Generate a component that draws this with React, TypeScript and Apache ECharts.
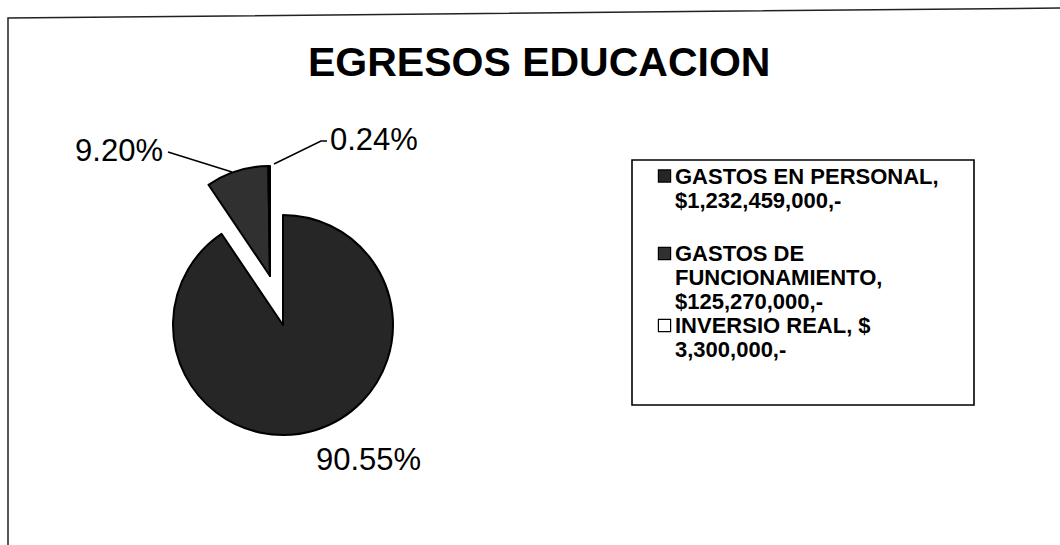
import React, { useEffect, useRef } from "react";
import * as echarts from "echarts";

// ---- data ----
const categories = ["GASTOS EN PERSONAL", "GASTOS DE FUNCIONAMIENTO", "INVERSIO REAL"];
const values = [1232459000, 125270000, 3300000];
const legendLines = [
  ["GASTOS EN PERSONAL,", "$1,232,459,000,-"],
  ["GASTOS DE", "FUNCIONAMIENTO,", "$125,270,000,-"],
  ["INVERSIO REAL, $", "3,300,000,-"],
];
const exploded = [false, true, true];
const titleText = "EGRESOS EDUCACION";

// ---- styles / placement ----
const sliceColors = ["#262626", "#303030", "#ffffff"];
const FONT = "'Liberation Sans', Arial, Helvetica, sans-serif";
const PIE_CENTER = [283, 325];
const EXPLODE_SHIFT = [-13, -49];
const labelPlacement: any[] = [
  { x: 316, y: 459, align: "left", line: null },
  { x: 163, y: 150.5, align: "right", line: [[232, 172], [200, 162], [168, 152]] },
  { x: 330, y: 139, align: "left", line: [[274, 164], [321, 141], [327, 141]] },
];

const total = values.reduce((a, b) => a + b, 0);

function pieSeries(showExploded: boolean, center: number[]) {
  return {
    type: "pie",
    center,
    radius: 110,
    startAngle: 90,
    clockwise: true,
    avoidLabelOverlap: false,
    silent: true,
    emphasis: { disabled: true },
    label: {
      show: true,
      position: "outside",
      formatter: (p: any) => ((p.value / total) * 100).toFixed(2) + "%",
      fontSize: 31,
      fontFamily: FONT,
      color: "#000",
    },
    labelLine: { show: true, lineStyle: { color: "#000", width: 1.5 } },
    labelLayout: (params: any) => {
      const lp = labelPlacement[params.dataIndex];
      const r: any = { x: lp.x, y: lp.y, align: lp.align, verticalAlign: "middle" };
      if (lp.line) r.labelLinePoints = lp.line;
      return r;
    },
    data: categories.map((name, i) => {
      const visible = exploded[i] === showExploded;
      return {
        name,
        value: values[i],
        itemStyle: visible
          ? { color: sliceColors[i], borderColor: "#000", borderWidth: 2 }
          : { color: "rgba(0,0,0,0)", borderWidth: 0 },
        label: { show: visible },
        labelLine: { show: visible && !!labelPlacement[i].line },
      };
    }),
  };
}

export default function App() {
  const ref = useRef<HTMLDivElement>(null);
  useEffect(() => {
    if (!ref.current) return;
    const chart = echarts.init(ref.current, undefined, { renderer: "svg" });

    const rich: any = {
      g: { width: 5 },
      sp: { width: 16 },
      t: { fontSize: 22, fontWeight: "bold", lineHeight: 24, fontFamily: FONT, color: "#000" },
      e: { fontSize: 1, lineHeight: 56 },
    };
    sliceColors.forEach((c, i) => {
      rich["m" + i] = { width: 11, height: 11, backgroundColor: c, borderColor: "#000", borderWidth: 1.2 };
    });

    const option: any = {
      animation: false,
      backgroundColor: "#fff",
      title: {
        text: titleText,
        left: 308,
        top: 41,
        padding: 0,
        textStyle: { fontSize: 41, fontWeight: "bold", fontFamily: FONT, color: "#000" },
      },
      legend: {
        orient: "vertical",
        left: 654,
        top: 165,
        padding: 0,
        itemGap: 2,
        itemWidth: 0,
        itemHeight: 0,
        icon: "none",
        selectedMode: false,
        data: categories,
        formatter: (name: string) => {
          const i = categories.indexOf(name);
          const lines = legendLines[i];
          let s = `{m${i}|}{g|}{t|${lines[0]}}`;
          for (let k = 1; k < lines.length; k++) s += `\n{sp|}{t|${lines[k]}}`;
          if (i === 0) s += `\n{e| }`;
          return s;
        },
        textStyle: { rich, fontSize: 22, fontFamily: FONT, color: "#000" },
      },
      graphic: [
        {
          type: "polyline",
          shape: { points: [[8, 545], [8, 18], [1060, 8]] },
          style: { fill: "none", stroke: "#222", lineWidth: 1.5 },
          silent: true,
        },
        {
          type: "rect",
          shape: { x: 632, y: 160, width: 342, height: 245 },
          style: { fill: "none", stroke: "#000", lineWidth: 1.6 },
          silent: true,
        },
      ],
      series: [
        pieSeries(false, PIE_CENTER),
        pieSeries(true, [PIE_CENTER[0] + EXPLODE_SHIFT[0], PIE_CENTER[1] + EXPLODE_SHIFT[1]]),
      ],
    };
    chart.setOption(option);
    return () => chart.dispose();
  }, []);
  return (
    <div
      ref={ref}
      style={{ position: "absolute", left: 0, top: 0, width: 1060, height: 545, background: "#fff" }}
    />
  );
}
